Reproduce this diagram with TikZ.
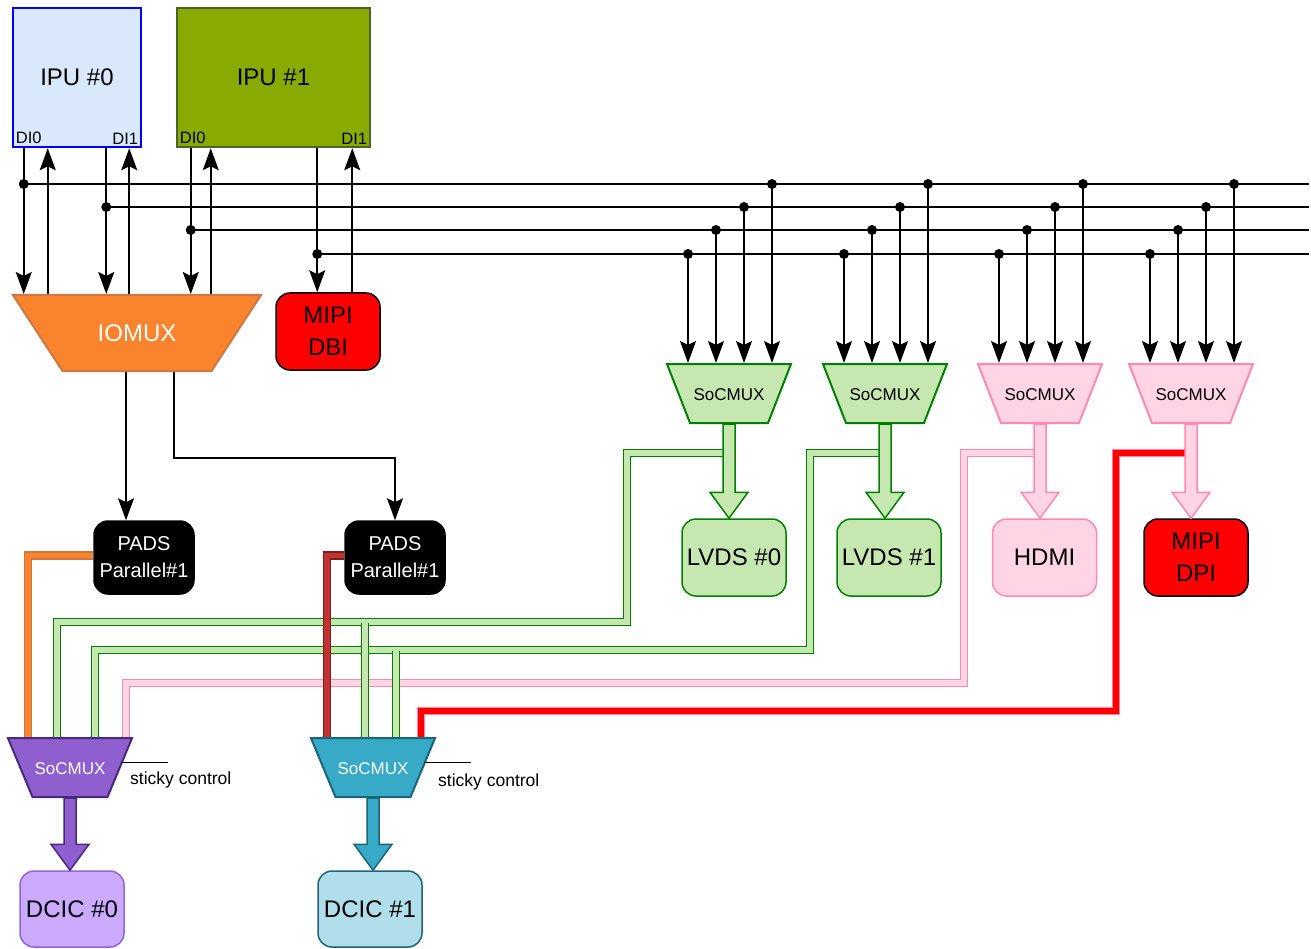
\documentclass[tikz,border=0pt]{standalone}
\usepackage{fontspec}
\setmainfont{Liberation Sans}
\usepackage{tikz}
\usetikzlibrary{arrows.meta, positioning, shapes.geometric, calc}
\definecolor{ipuzeroblue}{RGB}{0,0,255}
\definecolor{ipuzerofill}{RGB}{218,232,252}
\definecolor{ipuonefill}{RGB}{137,170,0}
\definecolor{ipuoneline}{RGB}{79,98,40}
\definecolor{iomuxfill}{RGB}{250,131,46}
\definecolor{iomuxline}{RGB}{205,120,65}
\definecolor{lvdsfill}{RGB}{198,231,176}
\definecolor{lvdsline}{RGB}{0,128,0}
\definecolor{hdmifill}{RGB}{255,212,228}
\definecolor{hdmiline}{RGB}{255,137,180}
\definecolor{dcicpurple}{RGB}{143,95,208}
\definecolor{dcicpurpleline}{RGB}{72,42,125}
\definecolor{dcicpurplelight}{RGB}{204,170,255}
\definecolor{dcicpurplelightline}{RGB}{150,100,215}
\definecolor{dcicteal}{RGB}{55,170,200}
\definecolor{dcictealline}{RGB}{30,100,120}
\definecolor{dcictealight}{RGB}{176,222,234}
\definecolor{padsbrown}{RGB}{195,50,50}
\definecolor{padsbrownline}{RGB}{125,30,30}
\definecolor{dpipipeline}{RGB}{255,130,160}

\begin{document}
\begin{tikzpicture}[x=1pt, y=-1pt,
    ipu/.style={draw, line width=2.5pt, minimum height=139pt, font=\fontsize{24}{28}\selectfont},
    dilbl/.style={font=\fontsize{16.5}{18}\selectfont, inner sep=4pt},
    blk/.style={draw, rounded corners=14pt, line width=1.5pt, minimum width=104pt, minimum height=77pt,
                align=center, font=\fontsize{24}{32}\selectfont},
    pads/.style={blk, fill=black, text=white, minimum width=100pt, minimum height=73pt,
                 font=\fontsize{20}{27}\selectfont},
    mux/.style={trapezium, trapezium left angle=111.3, trapezium right angle=111.3,
                text width=72pt, align=center, text height=13pt, text depth=0pt,
                inner xsep=3pt, inner ysep=23pt, line width=2pt,
                font=\fontsize{17}{20}\selectfont},
    dcicmux/.style={mux, trapezium left angle=112.6, trapezium right angle=112.6,
                text width=71pt, inner xsep=2pt, text=white},
    sticky/.style={font=\fontsize{17.5}{20}\selectfont, inner sep=0pt},
    sig/.style={line width=1.6pt, -{Stealth[length=22pt, width=16pt, inset=4pt]}},
    bus/.style={line width=1.6pt},
    pipe/.style={line width=1.4pt, double distance=5.5pt},
    fat/.style={line width=1.5pt, line join=miter}
  ]
  \useasboundingbox (0,0) rectangle (1311,949);

  % IPUs
  \node[ipu, draw=ipuzeroblue, fill=ipuzerofill, minimum width=128pt] (ipu0) at (77,77.5) {IPU \#0};
  \node[ipu, draw=ipuoneline, fill=ipuonefill, minimum width=193pt] (ipu1) at (273.5,77.5) {IPU \#1};
  \node[dilbl, anchor=south west] (di00) at (ipu0.south west) {DI0};
  \node[dilbl, anchor=south east] (di01) at (ipu0.south east) {DI1};
  \node[dilbl, anchor=south west] (di10) at (ipu1.south west) {DI0};
  \node[dilbl, anchor=south east] (di11) at (ipu1.south east) {DI1};

  \node[mux, draw=iomuxline, fill=iomuxfill, text=white, trapezium left angle=123.1, trapezium right angle=123.1,
        text width=143pt, text height=17pt, inner ysep=29.5pt, font=\fontsize{24}{28}\selectfont] (iomux) at (137,333) {IOMUX};
  \node[blk, fill=red] (dbi) at (328,331.5) {MIPI\\DBI};
  \node[pads] (pads0) at (144,557.5) {PADS\\Parallel\#1};
  \node[pads] (pads1) at (395,557.5) {PADS\\Parallel\#1};

  % display side muxes
  \node[mux, draw=lvdsline, fill=lvdsfill] (sm0) at (729,393.5) {SoCMUX};
  \node[mux, draw=lvdsline, fill=lvdsfill] (sm1) at (885,393.5) {SoCMUX};
  \node[mux, draw=hdmiline, fill=hdmifill] (sm2) at (1040,393.5) {SoCMUX};
  \node[mux, draw=hdmiline, fill=hdmifill] (sm3) at (1191,393.5) {SoCMUX};
  \node[blk, draw=lvdsline, fill=lvdsfill] (lvds0) at (734,557.5) {LVDS \#0};
  \node[blk, draw=lvdsline, fill=lvdsfill] (lvds1) at (889,557.5) {LVDS \#1};
  \node[blk, draw=hdmiline, fill=hdmifill] (hdmi) at (1044.5,557.5) {HDMI};
  \node[blk, fill=red] (dpi) at (1196,557.5) {MIPI\\DPI};

  % DCIC side
  \node[dcicmux, draw=dcicpurpleline, fill=dcicpurple] (mux0) at (70,767.5) {SoCMUX};
  \node[dcicmux, draw=dcictealline, fill=dcicteal] (mux1) at (373,767.5) {SoCMUX};
  \node[blk, draw=dcicpurplelightline, fill=dcicpurplelight, minimum height=76pt] (dcic0) at (72,909) {DCIC \#0};
  \node[blk, draw=dcictealline, fill=dcictealight, minimum height=76pt] (dcic1) at (370,909) {DCIC \#1};
  \node[sticky, anchor=west] (stk0) at (130,780) {sticky control};
  \node[sticky, anchor=west] (stk1) at (438,782) {sticky control};

  % IPU ports
  \coordinate (o0) at ([xshift=12pt]ipu0.south west);
  \coordinate (i0) at ([xshift=36pt]ipu0.south west);
  \coordinate (o1) at ([xshift=-36pt]ipu0.south east);
  \coordinate (i1) at ([xshift=-13pt]ipu0.south east);
  \coordinate (o2) at ([xshift=15pt]ipu1.south west);
  \coordinate (i2) at ([xshift=35pt]ipu1.south west);
  \coordinate (o3) at ([xshift=-54pt]ipu1.south east);
  \coordinate (i3) at ([xshift=-19pt]ipu1.south east);
  \coordinate (b1) at (1309,184);
  \coordinate (b2) at (1309,207);
  \coordinate (b3) at (1309,230);
  \coordinate (b4) at (1309,254);

  \draw[sig] (o0) -- (o0 |- iomux.north);
  \draw[sig] (i0 |- iomux.north) -- (i0);
  \draw[sig] (o1) -- (o1 |- iomux.north);
  \draw[sig] (i1 |- iomux.north) -- (i1);
  \draw[sig] (o2) -- (o2 |- iomux.north);
  \draw[sig] (i2 |- iomux.north) -- (i2);
  \draw[sig] (o3) -- (o3 |- dbi.north);
  \draw[sig] (i3 |- dbi.north) -- (i3);

  % bus
  \foreach \o/\b in {o0/b1, o1/b2, o2/b3, o3/b4} {
    \draw[bus] (\o |- \b) -- (\b);
    \fill (\o |- \b) circle[radius=5pt];
  }
  \foreach \m in {sm0,sm1,sm2,sm3}
    \foreach \dx/\b in {-41/b4, -13/b3, 15/b2, 43/b1} {
      \coordinate (in) at ([xshift=\dx pt]\m.north);
      \draw[sig] (in |- \b) -- (in);
      \fill (in |- \b) circle[radius=5pt];
    }

  % IOMUX to pads
  \coordinate (q0) at ([xshift=-11pt]iomux.south);
  \coordinate (q1) at ([xshift=37pt]iomux.south);
  \draw[sig] (q0) -- (q0 |- pads0.north);
  \draw[sig] (q1) -- ++(0,86) -| (pads1.north);

  % pipes to the DCIC muxes
  \draw[pipe, draw=dpipipeline, double=red] ([yshift=-29pt]sm3.south) -- ++(-75,0) -- ++(0,258) -| ([xshift=48pt]mux1.north);
  \draw[pipe, draw=hdmiline, double=hdmifill] ([yshift=-29pt]sm2.south) -- ++(-76,0) -- ++(0,230) -| ([xshift=56pt]mux0.north);
  \draw[pipe, draw=lvdsline, double=lvdsfill] ([yshift=-29pt]sm1.south) -- ++(-75,0) -- ++(0,197) -| ([xshift=25pt]mux0.north);
  \draw[pipe, draw=lvdsline, double=lvdsfill] ([xshift=23pt]mux1.north) -- ++(0,-86.25);
  \draw[pipe, draw=lvdsline, double=lvdsfill] ([yshift=-29pt]sm0.south) -- ++(-102,0) -- ++(0,169) -| ([xshift=-13pt]mux0.north);
  \draw[pipe, draw=lvdsline, double=lvdsfill] ([xshift=-8pt]mux1.north) -- ++(0,-114.25);
  \draw[pipe, draw=iomuxline, double=iomuxfill] ([yshift=2pt]pads0.west) -| ([xshift=-42pt]mux0.north);
  \draw[pipe, draw=padsbrownline, double=padsbrown] ([yshift=2pt]pads1.west) -| ([xshift=-46pt]mux1.north);

  % fat arrows
  \foreach \a/\b/\c/\f in {sm0/lvds0/lvdsline/lvdsfill, sm1/lvds1/lvdsline/lvdsfill,
      sm2/hdmi/hdmiline/hdmifill, sm3/dpi/hdmiline/hdmifill,
      mux0/dcic0/dcicpurpleline/dcicpurple, mux1/dcic1/dcictealline/dcicteal} {
    \coordinate (tip) at (\a.south |- \b.north);
    \draw[fat, draw=\c, fill=\f] ([xshift=-6pt]\a.south) -- ([shift={(-6pt,26pt)}]tip)
      -- ([shift={(-19pt,26pt)}]tip) -- (tip) -- ([shift={(19pt,26pt)}]tip)
      -- ([shift={(6pt,26pt)}]tip) -- ([xshift=6pt]\a.south) -- cycle;
  }

  \draw[line width=1.2pt] ([yshift=5pt]mux0.east) -- ++(47,0);
  \draw[line width=1.2pt] ([yshift=5pt]mux1.east) -- ++(47,0);
\end{tikzpicture}
\end{document}
